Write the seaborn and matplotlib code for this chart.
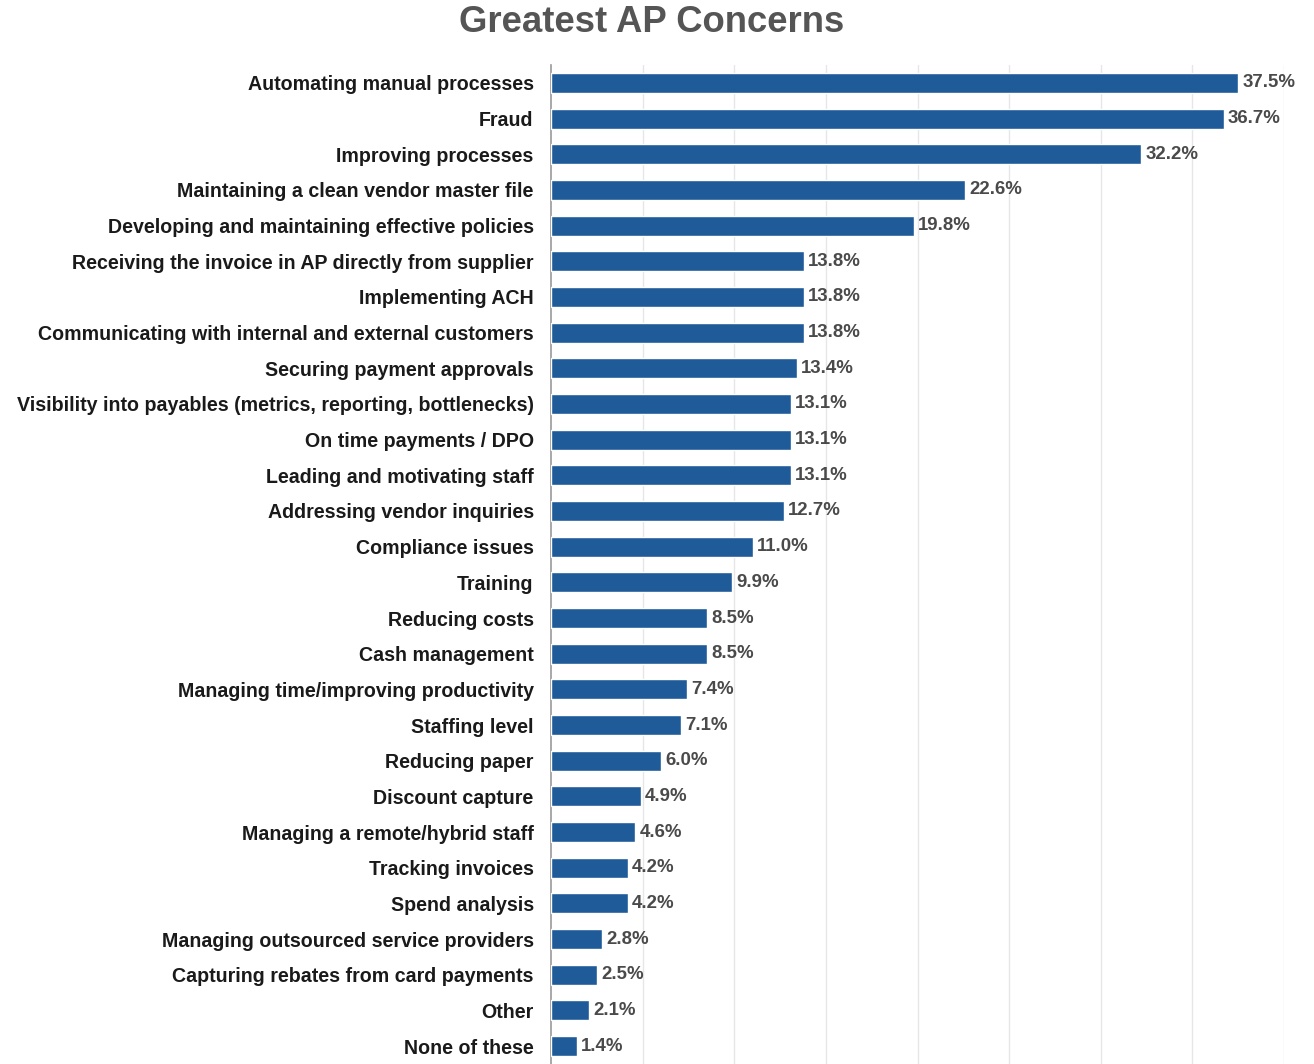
import matplotlib
matplotlib.use("Agg")
import matplotlib.pyplot as plt
import seaborn as sns
import pandas as pd

concerns = [
    "Automating manual processes",
    "Fraud",
    "Improving processes",
    "Maintaining a clean vendor master file",
    "Developing and maintaining effective policies",
    "Receiving the invoice in AP directly from supplier",
    "Implementing ACH",
    "Communicating with internal and external customers",
    "Securing payment approvals",
    "Visibility into payables (metrics, reporting, bottlenecks)",
    "On time payments / DPO",
    "Leading and motivating staff",
    "Addressing vendor inquiries",
    "Compliance issues",
    "Training",
    "Reducing costs",
    "Cash management",
    "Managing time/improving productivity",
    "Staffing level",
    "Reducing paper",
    "Discount capture",
    "Managing a remote/hybrid staff",
    "Tracking invoices",
    "Spend analysis",
    "Managing outsourced service providers",
    "Capturing rebates from card payments",
    "Other",
    "None of these",
]
shares = [37.5, 36.7, 32.2, 22.6, 19.8, 13.8, 13.8, 13.8, 13.4, 13.1, 13.1, 13.1,
          12.7, 11.0, 9.9, 8.5, 8.5, 7.4, 7.1, 6.0, 4.9, 4.6, 4.2, 4.2, 2.8, 2.5,
          2.1, 1.4]
grid_ticks = [5, 10, 15, 20, 25, 30, 35, 40]

df = pd.DataFrame({"concern": concerns, "share": shares})

sns.set_theme(style="white")
plt.rcParams["font.family"] = ["Liberation Sans", "DejaVu Sans"]

fig = plt.figure(figsize=(13.14, 10.64), dpi=100)
ax = fig.add_axes([551 / 1314, 0.0, (1284 - 551) / 1314, (1064 - 65) / 1064])

bar_color = "#1f5b99"
sns.barplot(data=df, x="share", y="concern", orient="h", color=bar_color,
            width=0.56, saturation=1, ax=ax, zorder=3)

ax.set_xlim(0, 40)
ax.set_ylim(len(concerns) - 0.5, -0.5)
ax.set_xticks(grid_ticks)
ax.xaxis.grid(True, color="#e6e6e6", linewidth=1.0, zorder=0)
ax.set_axisbelow(True)
ax.tick_params(axis="x", bottom=False, labelbottom=False)
ax.tick_params(axis="y", left=False, pad=6.5)
for lbl in ax.get_yticklabels():
    lbl.set_fontweight("bold")
    lbl.set_fontsize(14.1)
    lbl.set_color("#1a1a1a")
ax.set_xlabel("")
ax.set_ylabel("")
for side in ("top", "right", "bottom"):
    ax.spines[side].set_visible(False)
ax.spines["left"].set_color("#9a9a9a")
ax.spines["left"].set_linewidth(1.2)

for container in ax.containers:
    ax.bar_label(container, labels=[f"{v:.1f}%" for v in shares], padding=3,
                 fontsize=13.4, color="#4a4a4a", fontweight="bold")

fig.text(652 / 1314, 1 - 22 / 1064, "Greatest AP Concerns", ha="center",
         va="center", fontsize=26.3, fontweight="bold", color="#555555")

fig.savefig("out.png", dpi=100)
